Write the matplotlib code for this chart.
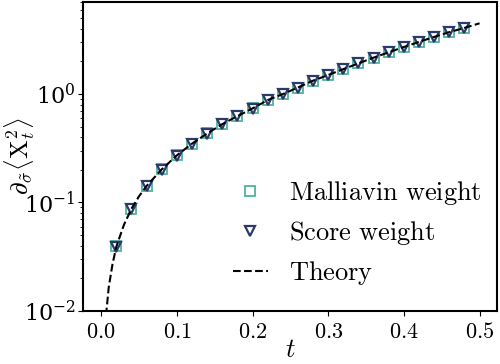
import numpy as np
import matplotlib.pyplot as plt

plt.rcParams['mathtext.fontset'] = 'cm'
plt.rcParams['font.family'] = 'serif'
plt.rcParams['font.serif'] = ['DejaVu Serif']

# sample times and estimates
t = [0.02, 0.04, 0.06, 0.08, 0.10, 0.12, 0.14, 0.16, 0.18, 0.20, 0.22, 0.24,
     0.26, 0.28, 0.30, 0.32, 0.34, 0.36, 0.38, 0.40, 0.42, 0.44, 0.46, 0.48]
malliavin = [0.0394, 0.0875, 0.142, 0.202, 0.272, 0.349, 0.433, 0.528, 0.626, 0.737,
             0.88, 1.0, 1.15, 1.33, 1.50, 1.70, 1.92, 2.17, 2.43, 2.72, 3.03, 3.37, 3.73, 4.08]
score = [0.0390, 0.0870, 0.141, 0.201, 0.271, 0.348, 0.432, 0.527, 0.625, 0.735,
         0.878, 0.998, 1.15, 1.33, 1.50, 1.70, 1.92, 2.16, 2.43, 2.72, 3.03, 3.36, 3.72, 4.07]

# theory curve
t_th = [0.005, 0.01, 0.015, 0.02, 0.03, 0.04, 0.05, 0.06, 0.08, 0.10, 0.12, 0.14,
        0.16, 0.18, 0.20, 0.22, 0.24, 0.26, 0.28, 0.30, 0.32, 0.34, 0.36, 0.38,
        0.40, 0.42, 0.44, 0.46, 0.48, 0.50]
theory = [0.0072, 0.0165, 0.027, 0.039, 0.062, 0.0875, 0.114, 0.142, 0.202, 0.272,
          0.349, 0.433, 0.528, 0.626, 0.737, 0.88, 1.0, 1.15, 1.33, 1.50, 1.70, 1.92,
          2.17, 2.43, 2.72, 3.03, 3.37, 3.73, 4.08, 4.5]

fig = plt.figure(figsize=(5, 3.64), dpi=100)
ax = fig.add_axes([0.166, 0.146, 0.828, 0.849])

ax.plot(t, malliavin, 's', ms=7, mfc='none', mec='#4fb39a', mew=1.3,
        label=r'$\mathrm{Malliavin\ weight}$')
ax.plot(t, score, 'v', ms=7, mfc='none', mec='#2b3a6b', mew=1.6,
        label=r'$\mathrm{Score\ weight}$')
ax.plot(t_th, theory, '--', color='k', lw=1.5, label=r'$\mathrm{Theory}$')

ax.set_yscale('log')
ax.set_ylim(1e-2, 7.1)
ax.set_xlim(-0.024, 0.523)
ax.set_xticks([0.0, 0.1, 0.2, 0.3, 0.4, 0.5])
ax.set_xticklabels([r'$0.0$', r'$0.1$', r'$0.2$', r'$0.3$', r'$0.4$', r'$0.5$'])
ax.tick_params(labelsize=16)
ax.tick_params(axis='y', pad=2)
for s in ax.spines.values():
    s.set_linewidth(1.5)

ax.set_xlabel(r'$t$', fontsize=19, labelpad=-4)
ax.set_ylabel(r'$\partial_{\tilde{\sigma}}\langle \mathrm{X}_t^2\rangle$', fontsize=18)
ax.yaxis.set_label_coords(-0.11, 0.5)

ax.legend(loc='lower right', frameon=False, fontsize=19, markerscale=1.0,
          handlelength=1.3, handletextpad=0.8, labelspacing=0.45,
          bbox_to_anchor=(1.02, 0.0))

fig.savefig('out.png', dpi=100)
